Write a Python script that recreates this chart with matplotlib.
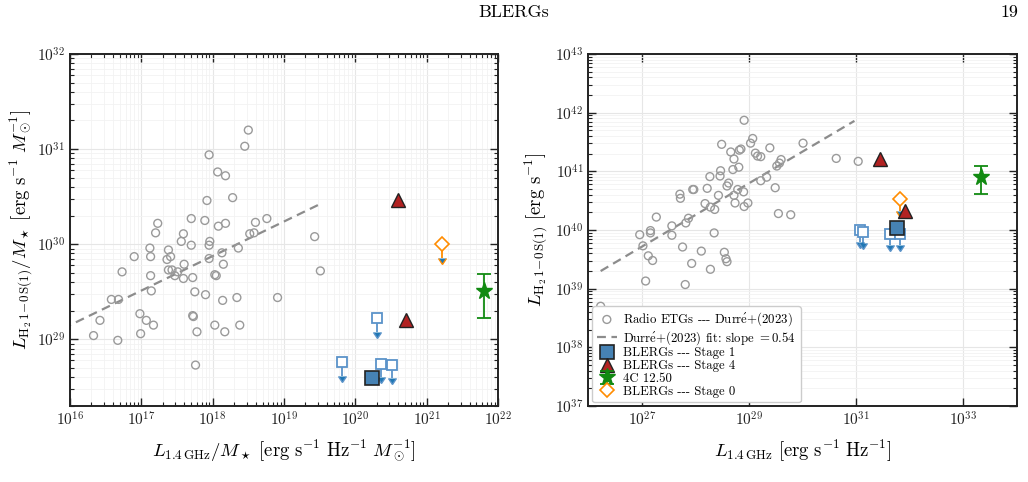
import numpy as np
import matplotlib
matplotlib.use("Agg")
import matplotlib.pyplot as plt
from matplotlib.ticker import LogLocator, NullLocator, NullFormatter

plt.rcParams['font.family'] = ['cmr10', 'DejaVu Serif']
plt.rcParams['mathtext.fontset'] = 'cm'
plt.rcParams['axes.unicode_minus'] = False
plt.rcParams['axes.formatter.use_mathtext'] = True

# ---------------- data (log10 values) ----------------
# Left panel: Radio ETGs (Durré+2023), L1.4GHz/M* vs LH2/M*
etg_lx_m = [18.50, 18.45, 17.95, 18.07, 18.18, 18.28, 17.92, 17.23, 17.70, 17.89,
            18.08, 18.18, 18.60, 18.76, 17.20, 17.59, 18.52, 18.58, 17.56, 17.70,
            17.96, 17.95, 19.43, 17.12, 17.38, 18.36, 18.13, 16.90, 17.13, 17.36,
            17.41, 17.95, 17.60, 18.15, 16.73, 17.13, 17.38, 17.43, 17.51, 17.47,
            17.59, 17.72, 18.03, 18.05, 17.14, 17.75, 17.90, 18.14, 18.34, 18.91,
            19.51, 16.58, 16.68, 16.42, 16.98, 17.07, 17.17, 17.72, 17.73, 18.03,
            18.38, 17.78, 18.17, 16.33, 16.67, 16.99, 17.76]
etg_ly_m = [31.20, 31.03, 30.94, 30.76, 30.72, 30.49, 30.46, 30.22, 30.27, 30.25,
            30.19, 30.22, 30.23, 30.27, 30.12, 30.11, 30.11, 30.12, 30.03, 29.99,
            30.03, 29.99, 30.08, 29.96, 29.94, 29.96, 29.91, 29.87, 29.87, 29.84,
            29.87, 29.85, 29.79, 29.79, 29.71, 29.67, 29.73, 29.73, 29.71, 29.67,
            29.64, 29.65, 29.68, 29.67, 29.51, 29.50, 29.47, 29.41, 29.44, 29.44,
            29.72, 29.42, 29.42, 29.20, 29.27, 29.20, 29.15, 29.25, 29.24, 29.15,
            29.15, 29.08, 29.08, 29.04, 28.99, 29.06, 28.73]
# Right panel: Radio ETGs, L1.4GHz vs LH2
etg_lx = [28.91, 28.49, 29.07, 29.03, 28.66, 28.82, 28.85, 29.39, 30.01, 29.12,
          29.16, 29.22, 28.72, 29.60, 29.57, 29.52, 28.47, 28.70, 28.81, 30.63,
          31.04, 28.27, 28.46, 29.33, 29.22, 28.62, 28.59, 28.22, 28.79, 28.90,
          27.71, 27.72, 27.95, 27.97, 28.43, 28.72, 29.49, 28.18, 28.28, 28.36,
          28.74, 28.91, 28.98, 27.27, 27.87, 27.82, 27.56, 27.56, 26.96, 27.16,
          27.16, 28.35, 27.02, 27.76, 28.11, 28.54, 29.55, 29.78, 27.12, 27.20,
          27.93, 28.57, 28.59, 28.28, 27.07, 27.81, 26.23]
etg_ly = [41.87, 41.46, 41.56, 41.48, 41.33, 41.36, 41.38, 41.40, 41.48, 41.31,
          41.26, 41.25, 41.21, 41.20, 41.14, 41.09, 41.01, 41.03, 41.07, 41.22,
          41.17, 40.91, 40.92, 40.90, 40.84, 40.80, 40.75, 40.71, 40.69, 40.65,
          40.61, 40.54, 40.69, 40.69, 40.59, 40.59, 40.72, 40.45, 40.39, 40.35,
          40.46, 40.40, 40.46, 40.22, 40.20, 40.12, 40.07, 39.91, 39.92, 39.99,
          39.95, 39.95, 39.73, 39.71, 39.64, 39.62, 40.28, 40.26, 39.56, 39.48,
          39.43, 39.51, 39.46, 39.33, 39.13, 39.07, 38.70]

# Fits
fit_left_x = [15.9, 19.5]
fit_left_intercept = 29.15   # log y at log x = 16
fit_left_slope = 0.363
fit_right_x = [26.23, 30.97]
fit_right_intercept = 39.30  # log y at log x = 26.23
fit_right_slope = 0.54

# BLERGs, left panel (normalised)
s1_lx_m, s1_ly_m = [20.24], [28.59]
s1lim_lx_m = [20.31, 19.81, 20.36, 20.51]
s1lim_ly_m = [29.22, 28.76, 28.74, 28.73]
s4_lx_m, s4_ly_m = [20.60, 20.71], [30.46, 29.20]
s0_lx_m, s0_ly_m = [21.22], [30.00]
c4_lx_m, c4_ly_m = [21.81], [29.51]
c4_ly_m_lo, c4_ly_m_hi = [29.22], [29.69]

# BLERGs, right panel
s1_lx, s1_ly = [31.76], [40.03]
s1lim_lx = [31.08, 31.13, 31.64, 31.83]
s1lim_ly = [40.00, 39.97, 39.94, 39.94]
s4_lx, s4_ly = [31.44, 31.92], [41.21, 40.32]
s0_lx, s0_ly = [31.83], [40.52]
c4_lx, c4_ly = [33.33], [40.91]
c4_ly_lo, c4_ly_hi = [40.62], [41.09]

ACUTE_E = r'$\acute{\mathrm{e}}$'
labels = ['Radio ETGs --- Durr' + ACUTE_E + '+(2023)',
          'Durr' + ACUTE_E + r'+(2023) fit: slope $=0.54$',
          'BLERGs --- Stage 1', 'BLERGs --- Stage 4', '4C 12.50',
          'BLERGs --- Stage 0']


def p(a):
    return 10.0 ** np.asarray(a, dtype=float)

GRAY = '#9a9a9a'
BLUE = '#4682b4'
LBLUE = '#5b93c9'
RED = '#b22222'
GREEN = '#118a11'
ORANGE = '#ff8c00'

fig = plt.figure(figsize=(10.28, 4.82), dpi=100)
axL = fig.add_axes([0.0681, 0.1577, 0.4163, 0.7303])
axR = fig.add_axes([0.5723, 0.1577, 0.4167, 0.7303])

fig.text(0.5, 0.974, 'BLERGs', ha='center', va='center', fontsize=13)
fig.text(0.982, 0.974, '19', ha='center', va='center', fontsize=13)


def style(ax):
    ax.set_xscale('log')
    ax.set_yscale('log')
    ax.grid(True, which='major', color='#e6e6e6', lw=0.8)
    ax.grid(True, which='minor', color='#f2f2f2', lw=0.6)
    ax.set_axisbelow(True)
    ax.tick_params(which='both', direction='in', top=True, right=True,
                   labelsize=11, colors='#222222')
    ax.tick_params(which='major', length=6, width=1.0)
    ax.tick_params(which='minor', length=3, width=0.8)
    for s in ax.spines.values():
        s.set_linewidth(1.4)
        s.set_color('#222222')


def draw(ax, ex, ey, fx, fb, fs, x0, s1x, s1y, lx, ly, s4x, s4y, s0x, s0y,
         cx, cy, clo, chi, arrow_dex):
    h = {}
    h[0] = ax.scatter(p(ex), p(ey), s=32, facecolors='none', edgecolors=GRAY,
                      linewidths=1.0, zorder=3)
    fxa = np.linspace(fx[0], fx[1], 50)
    h[1], = ax.plot(p(fxa), p(fb + fs * (fxa - x0)), ls='--', color='#8c8c8c', lw=1.6,
                    dashes=(4, 2.5), zorder=2)
    lyv = p(ly)
    ax.errorbar(p(lx), lyv, yerr=lyv * (1 - 10 ** (-arrow_dex)), uplims=True,
                fmt='none', ecolor=LBLUE, elinewidth=1.3, capsize=3, zorder=4)
    ax.plot(p(lx), lyv, 's', ms=7, mfc='white', mec=LBLUE, mew=1.3,
            ls='none', zorder=5)
    h[2], = ax.plot(p(s1x), p(s1y), 's', ms=10.5, mfc=BLUE, mec='#222222', mew=1.2,
                    ls='none', zorder=6)
    h[3], = ax.plot(p(s4x), p(s4y), '^', ms=10.5, mfc=RED, mec='#222222', mew=1.0,
                    ls='none', zorder=6)
    cyv = p(cy)
    h[4] = ax.errorbar(p(cx), cyv, yerr=[cyv - p(clo), p(chi) - cyv], fmt='*',
                       ms=12.5, color=GREEN, mec=GREEN, ecolor=GREEN, elinewidth=1.3,
                       capsize=5, capthick=1.3, zorder=6)
    s0v = p(s0y)
    ax.errorbar(p(s0x), s0v, yerr=s0v * (1 - 10 ** (-arrow_dex)), uplims=True,
                fmt='none', ecolor=ORANGE, elinewidth=1.3, capsize=3, zorder=4)
    h[5], = ax.plot(p(s0x), s0v, 'D', ms=7, mfc='white', mec=ORANGE, mew=1.2,
                    ls='none', zorder=5)
    return [h[i] for i in range(6)]


style(axL)
draw(axL, etg_lx_m, etg_ly_m, fit_left_x, fit_left_intercept, fit_left_slope, 16.0,
     s1_lx_m, s1_ly_m, s1lim_lx_m, s1lim_ly_m, s4_lx_m, s4_ly_m, s0_lx_m, s0_ly_m,
     c4_lx_m, c4_ly_m, c4_ly_m_lo, c4_ly_m_hi, 0.14)
axL.set_xlim(1e16, 1e22)
axL.set_ylim(10 ** 28.3, 1e32)
axL.xaxis.set_major_locator(LogLocator(base=10, numticks=20))
axL.xaxis.set_minor_locator(LogLocator(base=10, subs=np.arange(2, 10), numticks=20))
axL.xaxis.set_minor_formatter(NullFormatter())
axL.yaxis.set_major_locator(LogLocator(base=10, numticks=20))
axL.yaxis.set_minor_locator(LogLocator(base=10, subs=np.arange(2, 10), numticks=20))
axL.yaxis.set_minor_formatter(NullFormatter())
axL.set_xlabel(r'$L_{1.4\,\mathrm{GHz}}/M_\star\ [\mathrm{erg\ s^{-1}\ Hz^{-1}}\ M_\odot^{-1}]$',
               fontsize=13.5, labelpad=6)
axL.set_ylabel(r'$L_{\mathrm{H_2}\,1\!-\!0\,\mathrm{S(1)}}/M_\star\ [\mathrm{erg\ s^{-1}}\ M_\odot^{-1}]$',
               fontsize=13.5, labelpad=2)

style(axR)
handles = draw(axR, etg_lx, etg_ly, fit_right_x, fit_right_intercept, fit_right_slope, 26.23,
               s1_lx, s1_ly, s1lim_lx, s1lim_ly, s4_lx, s4_ly, s0_lx, s0_ly,
               c4_lx, c4_ly, c4_ly_lo, c4_ly_hi, 0.2)
axR.set_xlim(1e26, 1e34)
axR.set_ylim(1e37, 1e43)
axR.set_xticks([1e27, 1e29, 1e31, 1e33])
axR.xaxis.set_minor_locator(NullLocator())
axR.yaxis.set_major_locator(LogLocator(base=10, numticks=20))
axR.yaxis.set_minor_locator(LogLocator(base=10, subs=np.arange(2, 10), numticks=20))
axR.yaxis.set_minor_formatter(NullFormatter())
axR.set_xlabel(r'$L_{1.4\,\mathrm{GHz}}\ [\mathrm{erg\ s^{-1}\ Hz^{-1}}]$', fontsize=13.5, labelpad=6)
axR.set_ylabel(r'$L_{\mathrm{H_2}\,1\!-\!0\,\mathrm{S(1)}}\ [\mathrm{erg\ s^{-1}}]$', fontsize=13.5, labelpad=4)

leg = axR.legend(handles, labels, loc='lower left', fontsize=9.2, labelspacing=0.05,
                 handletextpad=0.5, borderpad=0.35, borderaxespad=0.3, handlelength=1.6,
                 framealpha=1, edgecolor='#cccccc', fancybox=True)

fig.savefig('out.png', dpi=100)
